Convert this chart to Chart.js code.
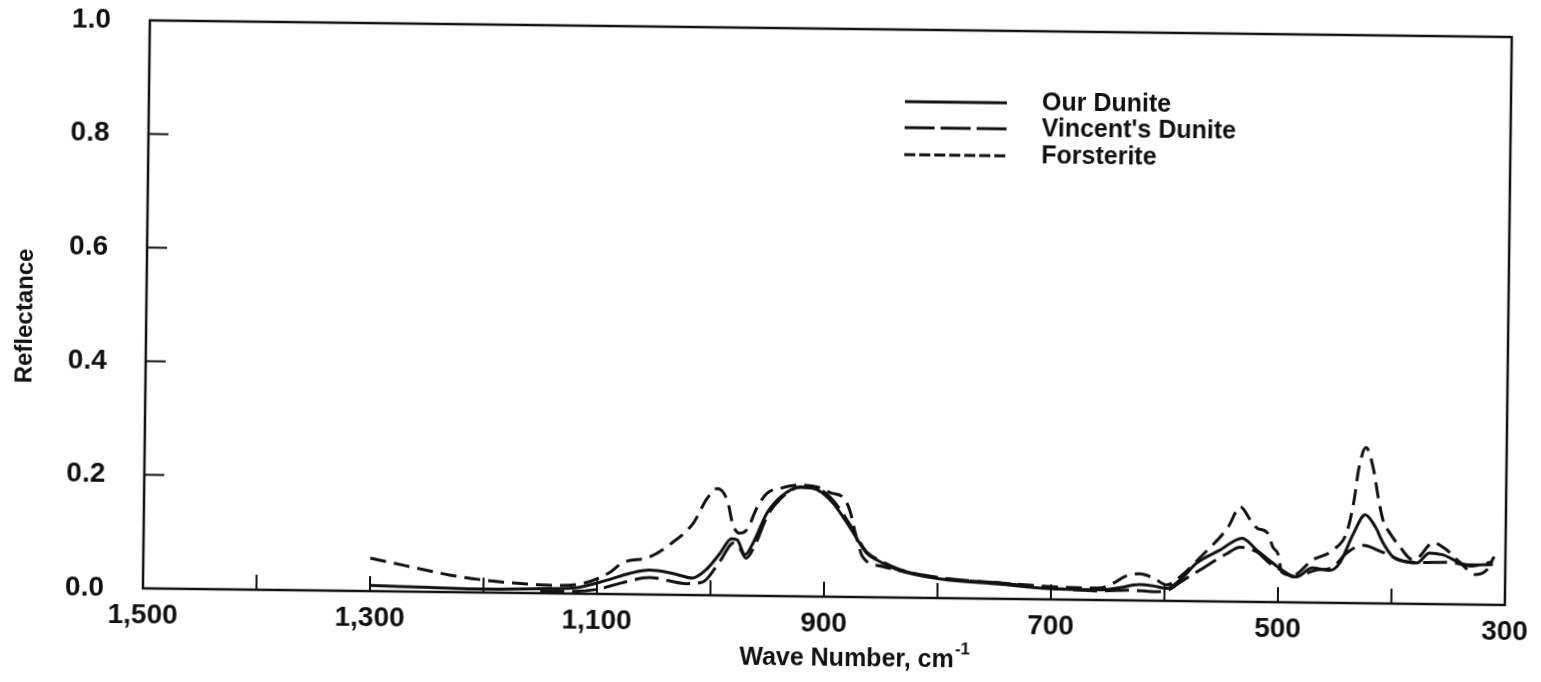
<!DOCTYPE html>
<html>
<head>
<meta charset="utf-8">
<script src="https://cdn.jsdelivr.net/npm/chart.js@4.4.1/dist/chart.umd.min.js"></script>
<style>
  html, body { margin: 0; padding: 0; background: #fff; }
  #wrap { width: 1541px; height: 682px; overflow: hidden; }
  #chart { display: block; transform: rotate(0.7deg); transform-origin: 50% 50%; }
</style>
</head>
<body>
<div id="wrap"><canvas id="chart" width="1541" height="682"></canvas></div>
<script>
// Reflectance spectra, wave number in cm^-1 (axis runs high to low)
const ourDuniteWn = [1300, 1250, 1200, 1150, 1120, 1092, 1071, 1054, 1034, 1016, 1004, 992, 982, 977, 970, 963, 951, 939, 922, 907, 893, 878, 863, 854, 834, 798, 746, 700, 657, 640, 622, 610, 598, 585, 572, 552, 532, 519, 505, 492, 484, 470, 455, 446, 434, 424, 415, 408, 399, 387, 378, 367, 355, 334, 311];
const ourDuniteR  = [0.010, 0.008, 0.006, 0.008, 0.010, 0.024, 0.037, 0.043, 0.038, 0.030, 0.045, 0.074, 0.100, 0.098, 0.072, 0.093, 0.146, 0.175, 0.193, 0.188, 0.165, 0.123, 0.078, 0.066, 0.048, 0.034, 0.026, 0.019, 0.018, 0.022, 0.028, 0.026, 0.022, 0.040, 0.067, 0.090, 0.112, 0.091, 0.069, 0.051, 0.045, 0.061, 0.057, 0.070, 0.123, 0.156, 0.135, 0.107, 0.082, 0.074, 0.072, 0.090, 0.087, 0.070, 0.071];

const vincentWn = [1150, 1120, 1100, 1078, 1054, 1021, 1007, 992, 980, 975, 969, 960, 951, 939, 922, 907, 893, 878, 863, 850, 834, 798, 746, 700, 657, 630, 610, 598, 585, 569, 545, 534, 519, 508, 499, 487, 467, 452, 440, 426, 408, 387, 376, 350, 329, 311];
const vincentR  = [0.004, 0.004, 0.008, 0.020, 0.030, 0.020, 0.023, 0.060, 0.093, 0.085, 0.066, 0.095, 0.140, 0.172, 0.192, 0.190, 0.170, 0.128, 0.080, 0.064, 0.050, 0.036, 0.028, 0.020, 0.016, 0.018, 0.016, 0.018, 0.035, 0.055, 0.085, 0.096, 0.088, 0.069, 0.058, 0.045, 0.057, 0.063, 0.088, 0.102, 0.090, 0.074, 0.073, 0.074, 0.068, 0.076];

const forsteriteWn = [1300, 1270, 1230, 1200, 1171, 1136, 1113, 1089, 1078, 1054, 1034, 1016, 1004, 995, 986, 981, 975, 968, 960, 951, 939, 922, 905, 895, 884, 878, 872, 866, 850, 834, 798, 746, 693, 658, 645, 635, 622, 610, 598, 585, 569, 545, 534, 525, 519, 510, 505, 500, 497, 487, 470, 452, 440, 434, 430, 424, 417, 413, 408, 402, 393, 382, 376, 364, 352, 340, 326, 316, 310];
const forsteriteR  = [0.058, 0.046, 0.030, 0.022, 0.017, 0.014, 0.018, 0.038, 0.055, 0.066, 0.092, 0.126, 0.170, 0.188, 0.167, 0.125, 0.110, 0.118, 0.155, 0.181, 0.190, 0.196, 0.192, 0.183, 0.175, 0.152, 0.105, 0.070, 0.055, 0.048, 0.035, 0.028, 0.022, 0.021, 0.030, 0.042, 0.047, 0.040, 0.028, 0.045, 0.077, 0.130, 0.167, 0.144, 0.130, 0.122, 0.097, 0.083, 0.053, 0.048, 0.075, 0.093, 0.125, 0.180, 0.238, 0.274, 0.235, 0.190, 0.145, 0.124, 0.100, 0.078, 0.083, 0.108, 0.096, 0.074, 0.053, 0.062, 0.085];

const seriesNames = ['Our Dunite', "Vincent's Dunite", 'Forsterite'];
const yTickValues = [0.0, 0.2, 0.4, 0.6, 0.8, 1.0];
const xMin = 300, xMax = 1500, xStep = 100;

const toPoints = (xs, ys) => xs.map((x, i) => ({ x, y: ys[i] }));
const INK = '#111';
const FONT = "'Liberation Sans', Arial, Helvetica, sans-serif";

// frame, inward tick marks, legend and axis titles
const decorations = {
  id: 'decorations',
  afterDraw(chart) {
    const { ctx, chartArea: a, scales: { x, y } } = chart;
    ctx.save();
    ctx.strokeStyle = INK;
    ctx.lineWidth = 2.5;
    ctx.strokeRect(a.left, a.top, a.right - a.left, a.bottom - a.top);

    ctx.lineWidth = 2;
    x.ticks.forEach(t => {
      if (t.value === xMin || t.value === xMax) return;
      const px = x.getPixelForValue(t.value);
      ctx.beginPath();
      ctx.moveTo(px, a.bottom);
      ctx.lineTo(px, a.bottom - 15);
      ctx.stroke();
    });
    y.ticks.forEach(t => {
      if (t.value <= 0 || t.value >= 1) return;
      const py = y.getPixelForValue(t.value);
      ctx.beginPath();
      ctx.moveTo(a.left, py);
      ctx.lineTo(a.left + 20, py);
      ctx.stroke();
    });

    // legend
    const rows = [100, 126, 153];
    ctx.font = 'bold 25px ' + FONT;
    ctx.fillStyle = INK;
    ctx.textBaseline = 'middle';
    ctx.textAlign = 'left';
    chart.data.datasets.forEach((ds, i) => {
      ctx.save();
      ctx.lineWidth = 3;
      ctx.setLineDash(ds.legendDash || []);
      ctx.beginPath();
      ctx.moveTo(902, rows[i]);
      ctx.lineTo(1004, rows[i]);
      ctx.stroke();
      ctx.restore();
      ctx.fillText(ds.label, 1039, rows[i]);
    });

    // x-axis title with superscript
    const main = 'Wave Number, cm';
    const sup = '-1';
    ctx.font = 'bold 25px ' + FONT;
    const wMain = ctx.measureText(main).width;
    ctx.font = 'bold 17px ' + FONT;
    const wSup = ctx.measureText(sup).width;
    const startX = 858 - (wMain + wSup) / 2;
    ctx.textBaseline = 'alphabetic';
    ctx.font = 'bold 25px ' + FONT;
    ctx.fillText(main, startX, 665);
    ctx.font = 'bold 17px ' + FONT;
    ctx.fillText(sup, startX + wMain + 1, 652);

    // y-axis title
    ctx.save();
    ctx.translate(25, 325);
    ctx.rotate(-Math.PI / 2);
    ctx.font = 'bold 24px ' + FONT;
    ctx.textAlign = 'center';
    ctx.textBaseline = 'middle';
    ctx.fillText('Reflectance', 0, 0);
    ctx.restore();
    ctx.restore();
  }
};

new Chart(document.getElementById('chart'), {
  type: 'line',
  data: {
    datasets: [
      { label: seriesNames[0], data: toPoints(ourDuniteWn, ourDuniteR), borderDash: [], legendDash: [] },
      { label: seriesNames[1], data: toPoints(vincentWn, vincentR), borderDash: [24, 8], legendDash: [30, 6] },
      { label: seriesNames[2], data: toPoints(forsteriteWn, forsteriteR), borderDash: [16, 8], legendDash: [11, 4] }
    ].map(ds => Object.assign({
      borderColor: INK,
      borderWidth: 3,
      pointRadius: 0,
      fill: false,
      cubicInterpolationMode: 'monotone'
    }, ds))
  },
  options: {
    responsive: false,
    animation: false,
    devicePixelRatio: 1,
    layout: { padding: { top: 28, right: 33, left: 0, bottom: 0 } },
    plugins: { legend: { display: false }, tooltip: { enabled: false } },
    scales: {
      x: {
        type: 'linear',
        reverse: true,
        min: xMin,
        max: xMax,
        grid: { display: false },
        border: { display: false },
        afterFit: s => { s.height = 86; },
        ticks: {
          stepSize: xStep,
          autoSkip: false,
          maxRotation: 0,
          padding: 2,
          color: INK,
          font: { family: FONT, size: 28, weight: 'bold' },
          callback: v => (v % 200 === 100 ? v.toLocaleString('en-US') : '')
        }
      },
      y: {
        min: 0,
        max: 1,
        grid: { display: true, drawOnChartArea: false, drawTicks: true, tickLength: 39, tickColor: 'rgba(0,0,0,0)' },
        border: { display: false },
        afterFit: s => { s.width = 146; },
        afterBuildTicks: s => { s.ticks = yTickValues.map(v => ({ value: v })); },
        ticks: {
          padding: 0,
          color: INK,
          font: { family: FONT, size: 28, weight: 'bold' },
          callback: v => Number(v).toFixed(1)
        }
      }
    }
  },
  plugins: [decorations]
});
</script>
</body>
</html>
